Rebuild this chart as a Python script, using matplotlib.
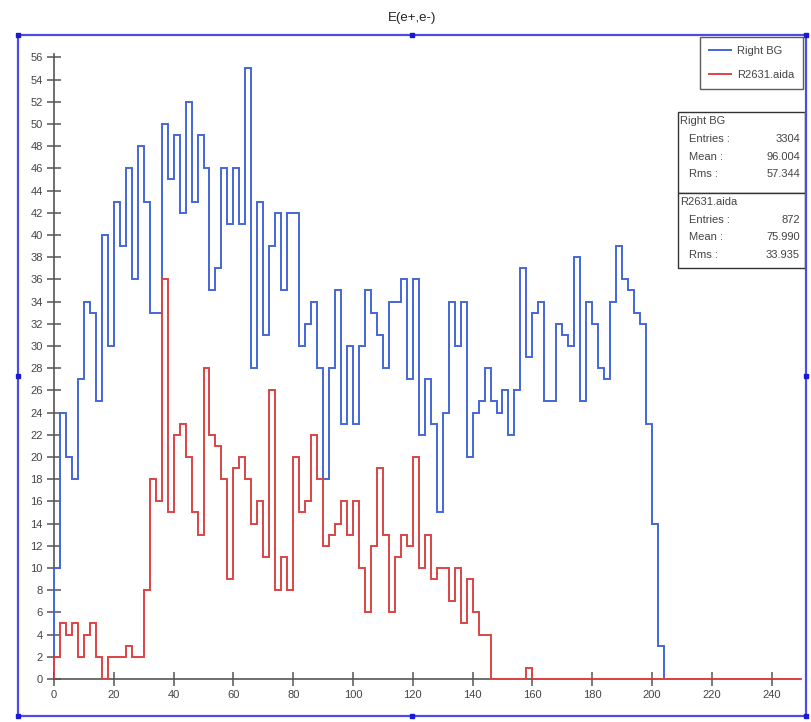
import numpy as np
import matplotlib
matplotlib.use("Agg")
import matplotlib.pyplot as plt
from matplotlib.patches import Rectangle
from matplotlib.lines import Line2D

# ---------------- data (bin width 2, starting at 0) ----------------
bin_width = 2
x_max = 250
right_bg = [10, 24, 20, 18, 27, 34, 33, 25, 40, 30, 43, 39, 46, 36, 48, 43, 33, 33, 50, 45,
            49, 42, 52, 43, 49, 46, 35, 37, 46, 41, 46, 41, 55, 28, 43, 31, 39, 42, 35, 42,
            42, 30, 32, 34, 28, 18, 28, 35, 23, 30, 23, 30, 35, 33, 31, 28, 34, 34, 36, 27,
            36, 22, 27, 23, 15, 24, 34, 30, 34, 20, 24, 25, 28, 25, 24, 26, 22, 26, 37, 29,
            33, 34, 25, 25, 32, 31, 30, 38, 25, 34, 32, 28, 27, 34, 39, 36, 35, 33, 32, 23,
            14, 3]
r2631 = [2, 5, 4, 5, 2, 4, 5, 2, 0, 2, 2, 2, 3, 2, 2, 8, 18, 16, 36, 15,
         22, 23, 20, 15, 13, 28, 22, 21, 18, 9, 19, 20, 18, 14, 16, 11, 26, 8, 11, 8,
         20, 15, 16, 22, 18, 12, 13, 14, 16, 13, 16, 10, 6, 12, 19, 13, 6, 11, 13, 12,
         20, 10, 13, 9, 10, 10, 7, 10, 5, 9, 6, 4, 4, 0, 0, 0, 0, 0, 0, 1]
series_names = ["Right BG", "R2631.aida"]
stats = {
    "Right BG": ("3304", "96.004", "57.344"),
    "R2631.aida": ("872", "75.990", "33.935"),
}
title = "E(e+,e-)"
y_ticks = list(range(0, 57, 2))
x_ticks = list(range(0, 241, 20))

# ---------------- figure ----------------
W, H = 812, 722
fig = plt.figure(figsize=(W / 100, H / 100), dpi=100)
fig.patch.set_facecolor("white")

FONT = ["Liberation Sans Narrow", "Liberation Sans", "DejaVu Sans"]
plt.rcParams["font.family"] = FONT

def fx(px):
    return px / W

def fy(py):
    return 1 - py / H

ax_left, ax_right = 54, 801.5
ax_bottom, ax_top = 679, 54
ax = fig.add_axes([fx(ax_left), fy(ax_bottom), fx(ax_right - ax_left), (ax_bottom - ax_top) / H])
ax.set_facecolor("white")

nbins = int(x_max / bin_width)
blue_vals = np.pad(np.array(right_bg, float), (0, nbins - len(right_bg)))
red_vals = np.pad(np.array(r2631, float), (0, nbins - len(r2631)))
edges = np.arange(nbins + 1) * bin_width

blue_c = "#4466d8"
red_c = "#dc4444"
ax.stairs(blue_vals, edges, baseline=0, color=blue_c, lw=1.4, zorder=3, label=series_names[0])
ax.stairs(red_vals, edges, baseline=0, color=red_c, lw=1.4, zorder=4, label=series_names[1])

ax.set_xlim(0, x_max)
ax.set_ylim(0, 56.3)
for s in ["top", "right"]:
    ax.spines[s].set_visible(False)
for s in ["left", "bottom"]:
    ax.spines[s].set_color("#555555")
    ax.spines[s].set_linewidth(1.2)
ax.set_yticks(y_ticks)
ax.set_xticks(x_ticks)
ax.tick_params(axis="both", direction="inout", length=10, width=1.1, color="#555555",
               labelsize=8, labelcolor="#444444")
ax.tick_params(axis="y", pad=3)
ax.tick_params(axis="x", pad=3)
for lab in ax.get_xticklabels() + ax.get_yticklabels():
    lab.set_family(FONT)

# title
fig.text(fx(412), fy(18), title, ha="center", va="center", fontsize=9.5, color="#222222",
         family=FONT)

# legend
leg = ax.legend(loc="upper right", bbox_to_anchor=(fx(803), fy(37)),
                bbox_transform=fig.transFigure, frameon=True, fancybox=False,
                edgecolor="#333333", handlelength=2.0, handletextpad=0.5,
                borderpad=0.8, labelspacing=1.3, borderaxespad=0,
                prop={"family": FONT, "size": 8})
leg.get_frame().set_linewidth(1.0)
for t in leg.get_texts():
    t.set_color("#444444")

# stats boxes
def stat_box(y0, y1, name, vals):
    fig.add_artist(Rectangle((fx(678), fy(y1)), fx(805 - 678), (y1 - y0) / H,
                             transform=fig.transFigure, fill=True, facecolor="white",
                             edgecolor="#333333", lw=1.0, zorder=5))
    fig.text(fx(680), fy(y0 + 9), name, ha="left", va="center", fontsize=8, color="#444444",
             family=FONT, zorder=6)
    rows = ["Entries :", "Mean :", "Rms :"]
    for i, (r, v) in enumerate(zip(rows, vals)):
        yy = y0 + 27 + i * 17.5
        fig.text(fx(689), fy(yy), r, ha="left", va="center", fontsize=8, color="#444444",
                 family=FONT, zorder=6)
        fig.text(fx(800), fy(yy), v, ha="right", va="center", fontsize=8, color="#444444",
                 family=FONT, zorder=6)

stat_box(112, 193, series_names[0], stats[series_names[0]])
stat_box(193, 268, series_names[1], stats[series_names[1]])

# outer selection frame with handles
frame_c = "#4b4be8"
fl, fr, ft, fb = 18, 806, 35, 716
fig.add_artist(Rectangle((fx(fl), fy(fb)), fx(fr - fl), (fb - ft) / H,
                         transform=fig.transFigure, fill=False, edgecolor=frame_c, lw=1.6,
                         zorder=10))
hx = [fl, (fl + fr) / 2, fr, fl, fr, fl, (fl + fr) / 2, fr]
hy = [ft, ft, ft, (ft + fb) / 2, (ft + fb) / 2, fb, fb, fb]
fig.add_artist(Line2D([fx(v) for v in hx], [fy(v) for v in hy], transform=fig.transFigure,
                      ls="none", marker="s", markersize=3.5, color="#1a1ad0", zorder=11))

fig.savefig("out.png", dpi=100, facecolor="white")
